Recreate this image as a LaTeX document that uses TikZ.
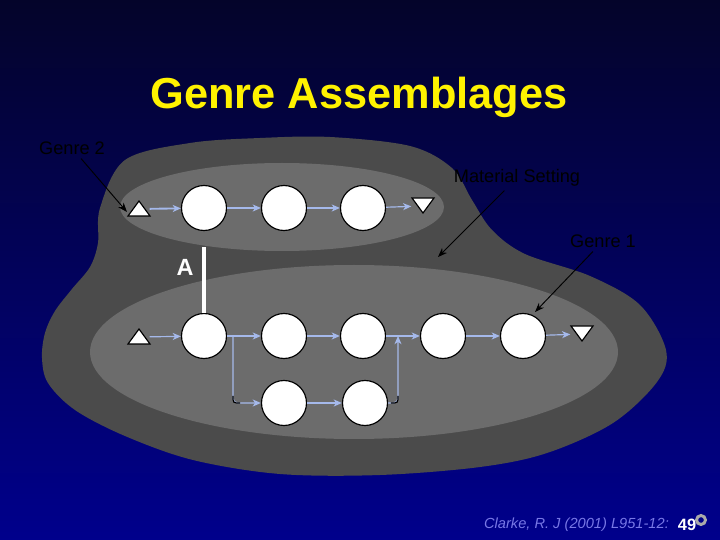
\documentclass[tikz,border=0pt]{standalone}
\usepackage{fontspec}
\setmainfont{Liberation Sans}
\usetikzlibrary{arrows.meta}

\definecolor{bgtop}{RGB}{4,4,42}
\definecolor{bgbot}{RGB}{0,0,140}
\definecolor{settinggray}{RGB}{75,75,75}
\definecolor{genregray}{RGB}{108,108,108}
\definecolor{flowblue}{RGB}{165,185,235}
\definecolor{citeblue}{RGB}{120,120,230}
\definecolor{ringgray}{RGB}{170,170,170}

\tikzset{
  stage/.style={circle, draw=black, fill=white, line width=1pt, minimum size=1.35cm, inner sep=0pt},
  tri/.style={draw=black, fill=white, line width=1pt, line join=miter},
  flow/.style={draw=flowblue, line width=1pt, -{Stealth[length=7pt,width=6pt,inset=2pt]}},
  cornerarc/.style={draw=black, line width=1pt},
  pointer/.style={draw=black, line width=0.8pt, -{Stealth[length=8pt,width=6pt]}},
  caption/.style={text=black, font=\fontsize{15.5}{18}\selectfont}
}

\begin{document}
\begin{tikzpicture}[x=0.03cm, y=-0.03cm]
	\shade[top color=bgtop, bottom color=bgbot] (0,0) rectangle (720,540);
	\useasboundingbox (0,0) rectangle (720,540);

	\node[text=yellow, font=\bfseries\fontsize{37}{44}\selectfont] (title) at (359,97) {Genre Assemblages};

	% material setting and the two genres
	\fill[settinggray] plot[smooth cycle, tension=0.55] coordinates {(100,208) (125,160) (190,143) (260,138) (330,137) (410,146) (452,168) (472,200) (492,230) (525,254) (590,276) (640,305) (666,350) (657,382) (613,423) (547,453) (480,467) (380,475) (280,474) (193,460) (125,436) (75,410) (48,383) (42,358) (45,333) (55,311) (72,289) (90,267) (98,243)};
	\fill[genregray] (282,207) ellipse [x radius=162, y radius=44];
	\fill[genregray] (354,352) ellipse [x radius=264, y radius=87];

	% genre 2
	\coordinate (g2in) at (139,209);
	\coordinate (g2out) at (423,206);
	\draw[tri] (g2in) ++(-11,7) -- ++(22,0) -- ++(-11,-15) -- cycle;
	\draw[tri] (g2out) ++(-11,-8) -- ++(22,0) -- ++(-11,15) -- cycle;
	\node[stage] (g2a) at (204,208) {};
	\node[stage] (g2b) at (284,208) {};
	\node[stage] (g2c) at (363,208) {};
	\draw[flow, line width=1.6pt, shorten <=9pt] (g2in) -- (g2a);
	\draw[flow] (g2a) -- (g2b);
	\draw[flow] (g2b) -- (g2c);
	\draw[flow, shorten >=10pt] (g2c) -- (g2out);

	% genre 1
	\coordinate (g1in) at (139,337);
	\coordinate (g1out) at (582,334);
	\draw[tri] (g1in) ++(-11,7) -- ++(22,0) -- ++(-11,-15) -- cycle;
	\draw[tri] (g1out) ++(-11,-8) -- ++(22,0) -- ++(-11,15) -- cycle;
	\node[stage] (g1a) at (204,336) {};
	\node[stage] (g1b) at (284,336) {};
	\node[stage] (g1c) at (363,336) {};
	\node[stage] (g1d) at (443,336) {};
	\node[stage] (g1e) at (523,336) {};
	\node[stage] (g1f) at (284,403) {};
	\node[stage] (g1g) at (365,403) {};
	\coordinate (split) at (233,336);
	\coordinate (merge) at (398,336);
	\coordinate (splitc) at (split |- g1f);
	\coordinate (mergec) at (merge |- g1g);
	\draw[flow, shorten <=9pt] (g1in) -- (g1a);
	\draw[flow] (g1a) -- (g1b);
	\draw[flow] (g1b) -- (g1c);
	\draw[flow] (g1c) -- (g1d);
	\draw[flow] (g1d) -- (g1e);
	\draw[flow, shorten >=10pt] (g1e) -- (g1out);
	\draw[flow, rounded corners=4pt] (split) -- (splitc) -- (g1f);
	\draw[flow, line width=1.8pt] (g1f) -- (g1g);
	\draw[flow, rounded corners=4pt] (g1g) -- (mergec) -- (merge);
	\draw[cornerarc] ([yshift=6pt]splitc) .. controls (splitc) .. ([xshift=6pt]splitc);
	\draw[cornerarc] ([xshift=-6pt]mergec) .. controls (mergec) .. ([yshift=6pt]mergec);

	% assemblage link
	\draw[white, line width=3pt, shorten <=14pt] (g2a) -- (g1a);
	\node[text=white, font=\bfseries\fontsize{20}{24}\selectfont] (alink) at (185,267) {A};

	% labels
	\node[caption] (lblg2) at (72,148) {Genre 2};
	\node[caption] (lblset) at (517,178) {Material Setting};
	\node[caption] (lblg1) at (603,241) {Genre 1};
	\coordinate (tipg2) at (127,212);
	\coordinate (tipset) at (438,257);
	\coordinate (tipg1) at (535,312);
	\draw[pointer] (lblg2) -- (tipg2);
	\draw[pointer] (lblset) -- (tipset);
	\draw[pointer] (lblg1) -- (tipg1);

	% footer
	\node[text=citeblue, font=\itshape\fontsize{12.5}{15}\selectfont, anchor=east] (cite) at (673,525) {Clarke, R. J (2001) L951-12:};
	\node[text=white, font=\bfseries\fontsize{14}{16}\selectfont] (pagenum) at (687,525) {49};
	\draw[ringgray, line width=2.5pt] (701,520) circle (4.5);
\end{tikzpicture}
\end{document}
